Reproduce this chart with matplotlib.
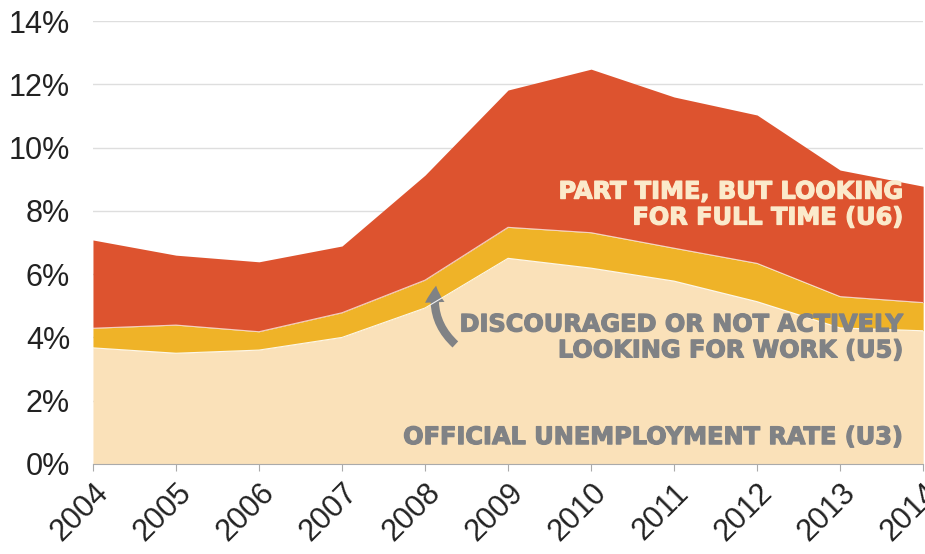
import matplotlib.pyplot as plt
import matplotlib.patheffects as pe
from matplotlib.patches import FancyArrowPatch

years = [2004, 2005, 2006, 2007, 2008, 2009, 2010, 2011, 2012, 2013, 2014]
u3 = [3.67, 3.50, 3.60, 4.00, 4.93, 6.50, 6.19, 5.78, 5.13, 4.30, 4.21]
u5 = [4.29, 4.39, 4.18, 4.78, 5.81, 7.48, 7.31, 6.82, 6.34, 5.29, 5.10]
u6 = [7.08, 6.60, 6.39, 6.89, 9.13, 11.82, 12.48, 11.60, 11.03, 9.29, 8.78]
yticks = [0, 2, 4, 6, 8, 10, 12, 14]

c_u6 = '#DD532F'
c_u5 = '#EFB328'
c_u3 = '#FAE1B9'
c_grey = '#808285'
c_cream = '#FBEACB'

plt.rcParams['font.family'] = ['Liberation Sans', 'DejaVu Sans']

fig = plt.figure(figsize=(9.25, 5.54), dpi=100)
ax = fig.add_axes([0.1005, 0.1625, 0.8975, 0.7995])

ax.fill_between(years, u5, u6, color=c_u6, lw=0)
ax.fill_between(years, u3, u5, color=c_u5, lw=0)
ax.fill_between(years, 0, u3, color=c_u3, lw=0)
ax.plot(years, u5, color='white', lw=0.8, alpha=0.7)
ax.plot(years, u3, color='white', lw=0.8, alpha=0.9)

ax.set_xlim(2004, 2014)
ax.set_ylim(0, 14)
ax.set_yticks(yticks)
ax.set_yticklabels([f'{v}%' for v in yticks])
ax.set_xticks(years)
ax.set_xticklabels([str(y) for y in years], rotation=45, ha='right',
                   va='top', rotation_mode='anchor')

ax.grid(axis='y', color='#DEDEDE', lw=1)
ax.set_axisbelow(True)
for s in ['left', 'right', 'top']:
    ax.spines[s].set_visible(False)
ax.spines['bottom'].set_color('#AAAAAA')
ax.tick_params(axis='y', length=0, pad=16.5, labelsize=22, labelcolor='#222222')
ax.tick_params(axis='x', length=5, color='#AAAAAA', labelsize=22,
               labelcolor='#222222', pad=5)

# heavy labels: bold face plus a thin stroke in the same colour
font = dict(family='DejaVu Sans', weight='bold', size=17.3)

def label(y, s, col):
    ax.text(2013.77, y, s, ha='right', va='center', color=col,
            linespacing=1.1, **font,
            path_effects=[pe.withStroke(linewidth=0.9, foreground=col)])

label(8.2, 'PART TIME, BUT LOOKING\nFOR FULL TIME (U6)', c_cream)
label(4.0, 'DISCOURAGED OR NOT ACTIVELY\nLOOKING FOR WORK (U5)', c_grey)
label(0.85, 'OFFICIAL UNEMPLOYMENT RATE (U3)', c_grey)

arrow = FancyArrowPatch((2008.39, 3.72), (2008.14, 5.72),
                        connectionstyle='arc3,rad=-0.3',
                        arrowstyle='simple,head_width=14,head_length=12,tail_width=6',
                        color=c_grey, lw=0)
ax.add_patch(arrow)

fig.savefig('out.png', dpi=100)
